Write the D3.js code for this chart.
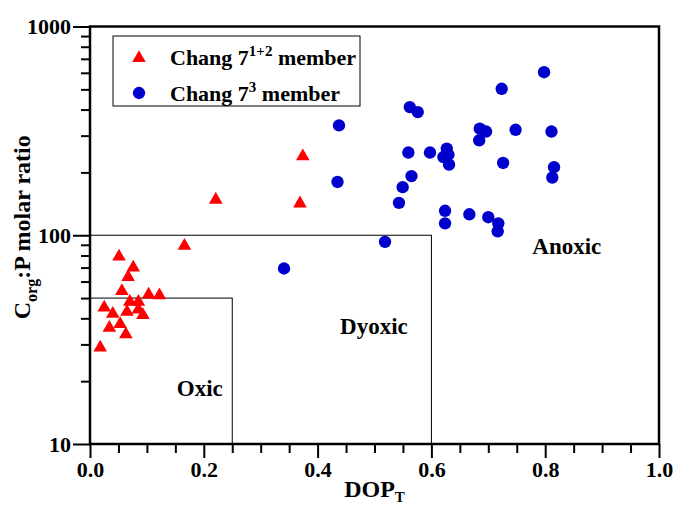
<!DOCTYPE html>
<html>
<head>
<meta charset="utf-8">
<script src="https://cdn.jsdelivr.net/npm/d3@7"></script>
<style>
  html, body { margin: 0; padding: 0; background: #fff; }
  svg { display: block; }
  text { font-family: "Liberation Serif", "Times New Roman", serif; font-weight: bold; fill: #000; }
</style>
</head>
<body>
<svg id="chart" width="673" height="506"></svg>
<script>
// Chang 7(1+2) member samples
const chang12DOP = [0.166, 0.051, 0.076, 0.067, 0.056, 0.103, 0.122, 0.070, 0.085, 0.025, 0.085,
                    0.040, 0.065, 0.093, 0.034, 0.053, 0.063, 0.018, 0.221, 0.374, 0.369];
const chang12CP  = [89, 79, 70, 63, 54, 52, 51.5, 48, 48, 45, 44,
                    42, 43, 41.5, 36, 37.5, 33.5, 29, 148, 239, 142];

// Chang 7(3) member samples
const chang3DOP = [0.7235, 0.562, 0.576, 0.4376, 0.685, 0.696, 0.684, 0.748, 0.5595, 0.5975, 0.627,
                   0.621, 0.630, 0.631, 0.726, 0.565, 0.5495, 0.435, 0.543, 0.624, 0.6667, 0.700,
                   0.7176, 0.7165, 0.624, 0.5185, 0.341, 0.798, 0.811, 0.8155, 0.8125];
const chang3CP  = [503, 411, 389, 336, 324, 314, 285, 320, 249, 249, 260,
                   237, 243, 218, 222, 192, 170, 180, 143, 131, 126, 122,
                   114, 104.5, 114, 93, 69.3, 604, 314, 212, 189];

// Redox zones: upper DOP_T and Corg:P limits of each box
const zoneNames  = ["Oxic", "Dyoxic"];
const zoneDOPMax = [0.25, 0.6];
const zoneCPMax  = [50, 100];
// Zone label anchor positions (data units)
const labelNames = ["Oxic", "Dyoxic", "Anoxic"];
const labelDOP   = [0.193, 0.499, 0.838];
const labelCP    = [18.5, 36.7, 88.6];

const xTicks = [0, 0.2, 0.4, 0.6, 0.8, 1.0];
const yTicks = [10, 100, 1000];

const svg = d3.select("#chart");
const L = 90, R = 659, T = 26.5, B = 444;

const x = d3.scaleLinear().domain([0, 1]).range([L, R]);
const y = d3.scaleLog().domain([10, 1000]).range([B, T]);

// zone boxes
zoneDOPMax.forEach((dx, i) => {
  svg.append("rect")
    .attr("x", x(0)).attr("y", y(zoneCPMax[i]))
    .attr("width", x(dx) - x(0)).attr("height", y(10) - y(zoneCPMax[i]))
    .attr("fill", "none").attr("stroke", "#000").attr("stroke-width", 1);
});

// zone labels
labelNames.forEach((t, i) => {
  svg.append("text")
    .attr("x", x(labelDOP[i])).attr("y", y(labelCP[i]))
    .attr("text-anchor", "middle").attr("dominant-baseline", "central")
    .style("font-size", "23px").text(t);
});

// x axis: major + minor ticks
const xMinor = d3.range(0, 1.0001, 0.05).filter(v => Math.abs(v * 5 - Math.round(v * 5)) > 1e-6);
svg.append("g").attr("transform", `translate(0,${B})`)
  .call(d3.axisBottom(x).tickValues(xMinor).tickSize(9).tickFormat(""))
  .call(g => g.select(".domain").remove())
  .call(g => g.selectAll("line").attr("stroke-width", 2));
svg.append("g").attr("transform", `translate(0,${B})`)
  .call(d3.axisBottom(x).tickValues(xTicks).tickSize(14).tickPadding(3).tickFormat(d3.format(".1f")))
  .call(g => g.select(".domain").remove())
  .call(g => g.selectAll("line").attr("stroke-width", 2))
  .call(g => g.selectAll("text").style("font-size", "22px").attr("font-family", null));

// y axis: major + minor ticks
const yMinor = [];
[10, 100].forEach(d => { for (let k = 2; k <= 9; k++) yMinor.push(d * k); });
svg.append("g").attr("transform", `translate(${L},0)`)
  .call(d3.axisLeft(y).tickValues(yMinor).tickSize(9).tickFormat(""))
  .call(g => g.select(".domain").remove())
  .call(g => g.selectAll("line").attr("stroke-width", 2));
svg.append("g").attr("transform", `translate(${L},0)`)
  .call(d3.axisLeft(y).tickValues(yTicks).tickSize(17).tickPadding(2).tickFormat(d3.format("d")))
  .call(g => g.select(".domain").remove())
  .call(g => g.selectAll("line").attr("stroke-width", 2))
  .call(g => g.selectAll("text").style("font-size", "22px").attr("font-family", null));

// plot frame
svg.append("rect").attr("x", L).attr("y", T).attr("width", R - L).attr("height", B - T)
  .attr("fill", "none").attr("stroke", "#000").attr("stroke-width", 2.5);

// points
const tri = d3.symbol().type(d3.symbolTriangle).size(80);
const circ = d3.symbol().type(d3.symbolCircle).size(120);

svg.append("g").selectAll("path.c3").data(chang3DOP).join("path")
  .attr("class", "c3")
  .attr("transform", (d, i) => `translate(${x(d)},${y(chang3CP[i])})`)
  .attr("d", circ).attr("fill", "#0000cc");

svg.append("g").selectAll("path.c12").data(chang12DOP).join("path")
  .attr("class", "c12")
  .attr("transform", (d, i) => `translate(${x(d)},${y(chang12CP[i])})`)
  .attr("d", tri).attr("fill", "#ff0000");

// axis titles
const xt = svg.append("text").attr("x", (L + R) / 2).attr("y", 497)
  .attr("text-anchor", "middle").style("font-size", "24px");
xt.append("tspan").text("DOP");
xt.append("tspan").attr("dy", 5).style("font-size", "15px").text("T");

const yt = svg.append("text")
  .attr("transform", `translate(30,${(T + B) / 2 - 8}) rotate(-90)`)
  .attr("text-anchor", "middle").style("font-size", "24px");
yt.append("tspan").text("C");
yt.append("tspan").attr("dy", 7).style("font-size", "16px").text("org");
yt.append("tspan").attr("dy", -7).text(":P molar ratio");

// legend
const lg = svg.append("g");
lg.append("rect").attr("x", 113).attr("y", 36).attr("width", 247).attr("height", 70)
  .attr("fill", "#fff").attr("stroke", "#000").attr("stroke-width", 1);
lg.append("path").attr("transform", "translate(139,58)").attr("d", tri).attr("fill", "#ff0000");
lg.append("path").attr("transform", "translate(139,93)").attr("d", circ).attr("fill", "#0000cc");
const l1 = lg.append("text").attr("x", 170).attr("y", 65).style("font-size", "22px");
l1.append("tspan").text("Chang 7");
l1.append("tspan").attr("dy", -9).style("font-size", "15px").text("1+2");
l1.append("tspan").attr("dy", 9).text(" member");
const l2 = lg.append("text").attr("x", 170).attr("y", 101).style("font-size", "22px");
l2.append("tspan").text("Chang 7");
l2.append("tspan").attr("dy", -9).style("font-size", "15px").text("3");
l2.append("tspan").attr("dy", 9).text(" member");
</script>
</body>
</html>
